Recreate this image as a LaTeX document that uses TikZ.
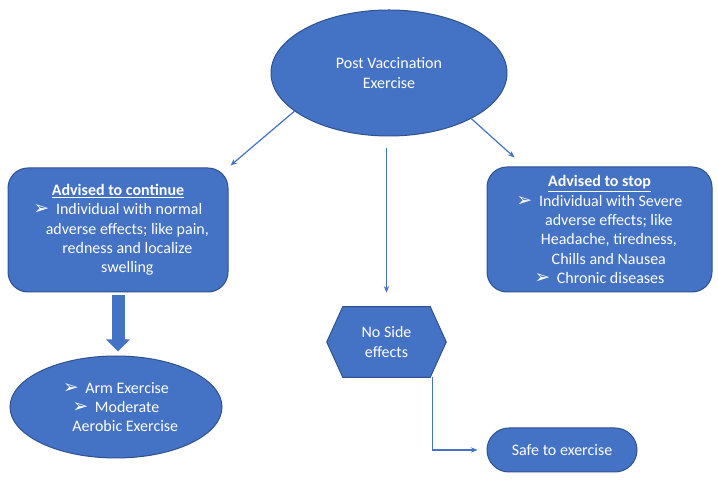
\documentclass[tikz,border=0pt]{standalone}
\usepackage{fontspec}
\setmainfont{Carlito}
\newfontfamily\dejavu{DejaVu Sans}
\usetikzlibrary{shapes.geometric,arrows.meta,calc,backgrounds}
\definecolor{fillblue}{HTML}{4472C4}
\definecolor{edgeblue}{HTML}{2F528F}
\definecolor{lineblue}{HTML}{4472C4}
\newcommand{\bul}{{\dejavu\fontsize{14}{14}\selectfont ➢}\hspace{5pt}}
\newcommand{\ind}{\hspace*{14pt}}
\begin{document}
\begin{tikzpicture}[x=0.75pt,y=-0.75pt,
  every node/.style={font=\fontsize{12}{14.5}\selectfont, text=white},
  shapebox/.style={fill=fillblue, draw=edgeblue, line width=0.75pt, inner sep=0pt, align=center},
  arr/.style={draw=lineblue, line width=0.9pt, -{Stealth[length=5pt,width=4pt]}},
  bigarr/.style={draw=fillblue, line width=9.75pt, -{Triangle[length=9pt,width=17.25pt]}}]
\useasboundingbox (0,0) rectangle (718,484);

\node[shapebox, ellipse, minimum width=177pt, minimum height=94.5pt] (top) at (389,73) {Post Vaccination\\Exercise};

\node[shapebox, rounded corners=15pt, minimum width=165pt, minimum height=93pt] (left) at (118,230)
  {\textbf{\underline{Advised to continue}}\\ \bul Individual with normal\\ \ind adverse effects; like pain,\\ \ind redness and localize\\ \ind swelling};

\node[shapebox, rounded corners=15pt, minimum width=168.75pt, minimum height=93.75pt] (right) at (599.5,229.5)
  {\textbf{\underline{Advised to stop}}\\ \bul Individual with Severe\\ \ind adverse effects; like\\ \ind Headache, tiredness,\\ \ind Chills and Nausea\\ \bul Chronic diseases};

\node[shapebox, ellipse, minimum width=159pt, minimum height=76.5pt] (ell) at (116,407)
  {\bul Arm Exercise\\ \bul Moderate\\ \ind Aerobic Exercise};

\node[inner sep=0pt, align=center, minimum width=89.25pt, minimum height=52.5pt] (hex) at (386.5,342) {No Side\\effects};
\begin{scope}[on background layer]
\fill[white] (0,0) rectangle (718,484);
\draw[fill=fillblue, draw=edgeblue, line width=0.75pt] (hex.west) -- ($(hex.north west)+(16,0)$) -- ($(hex.north east)+(-16,0)$) -- (hex.east) -- ($(hex.south east)+(-16,0)$) -- ($(hex.south west)+(16,0)$) -- cycle;
\end{scope}

\node[shapebox, rounded corners=16.5pt, minimum width=112.5pt, minimum height=33pt] (safe) at (562,450) {Safe to exercise};

\draw[arr] (top.202) -- ($(left.north east)+(2,-2)$);
\draw[arr] (top.-29) -- ($(right.north west)+(28,-9)$);
\draw[arr, shorten <=9pt, shorten >=10.5pt] (hex.north |- top.south) -- (hex.north);
\draw[arr, shorten >=6.75pt] ($(hex.south)+(46,0)$) |- (safe.west);
\draw[bigarr] ($(left.south)+(0,3)$) -- ($(left.south |- ell.north)+(0,-4)$);
\end{tikzpicture}
\end{document}
